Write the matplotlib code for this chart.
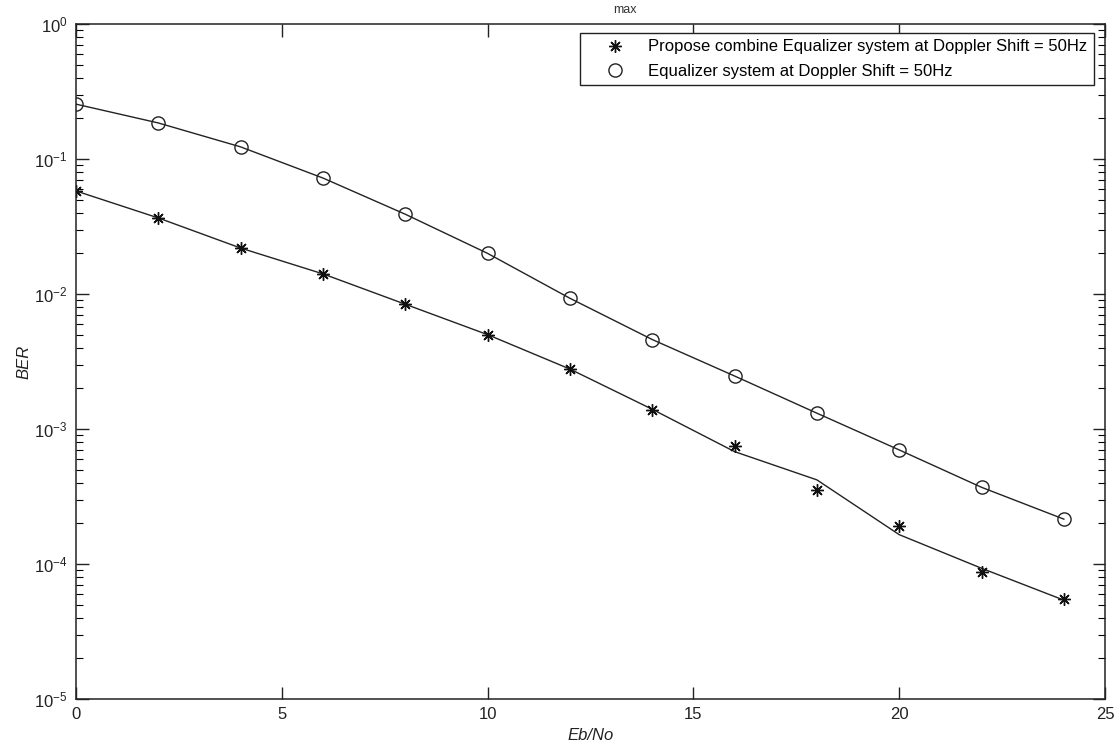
import numpy as np
import matplotlib.pyplot as plt
from matplotlib.ticker import LogLocator, NullFormatter

plt.rcParams['font.family'] = ['Liberation Sans', 'DejaVu Sans']
plt.rcParams['mathtext.fontset'] = 'custom'
plt.rcParams['mathtext.rm'] = 'Liberation Sans'
plt.rcParams['mathtext.it'] = 'Liberation Sans:italic'

# Eb/No points (dB)
ebno = [0, 2, 4, 6, 8, 10, 12, 14, 16, 18, 20, 22, 24]

# measured BER (markers)
ber_prop = [0.058, 0.0366, 0.0219, 0.0141, 0.0084, 0.0050, 0.00278,
            0.00138, 7.5e-4, 3.53e-4, 1.91e-4, 8.7e-5, 5.5e-5]
ber_eq = [0.255, 0.185, 0.123, 0.0723, 0.039, 0.020, 0.0093,
          0.0046, 0.00247, 0.00131, 7.0e-4, 3.7e-4, 2.15e-4]

# fitted curves drawn through the points
fit_prop = [0.058, 0.0366, 0.0219, 0.0141, 0.0084, 0.0050, 0.00278,
            0.00140, 6.8e-4, 4.2e-4, 1.65e-4, 9.3e-5, 5.4e-5]
fit_eq = ber_eq

labels = ['Propose combine Equalizer system at Doppler Shift = 50Hz',
          'Equalizer system at Doppler Shift = 50Hz']

fig = plt.figure(figsize=(11.19, 7.46), dpi=100)
ax = fig.add_axes([0.0679, 0.063, 0.9196, 0.9048])

ax.plot(ebno, fit_prop, color='#222222', lw=1.0)
ax.plot(ebno, fit_eq, color='#222222', lw=1.0)
ax.plot(ebno, ber_prop, ls='none', marker=(8, 2, 0), ms=9, mew=1.0,
        color='#111111', label=labels[0])
ax.plot(ebno, ber_eq, ls='none', marker='o', ms=9.5, mew=1.0,
        mfc='none', mec='#222222', label=labels[1])

ax.set_yscale('log')
ax.set_xlim(0, 25)
ax.set_ylim(1e-5, 1)
ax.set_xticks([0, 5, 10, 15, 20, 25])
ax.yaxis.set_major_locator(LogLocator(base=10, numticks=10))
ax.yaxis.set_minor_locator(LogLocator(base=10, subs=np.arange(2, 10), numticks=10))
ax.yaxis.set_minor_formatter(NullFormatter())

ax.tick_params(which='major', direction='in', length=9, width=1,
               top=True, right=True, labelsize=12, colors='#222222', pad=6)
ax.tick_params(which='minor', direction='in', length=5, width=0.8,
               top=True, right=True)
for s in ax.spines.values():
    s.set_linewidth(1.1)
    s.set_color('#222222')

ax.set_xlabel('Eb/No', fontsize=12, style='italic', color='#222222', labelpad=4)
ax.set_ylabel('BER', fontsize=12, style='italic', color='#222222', labelpad=2)

leg = ax.legend(loc='upper right', bbox_to_anchor=(0.989, 0.987),
                borderaxespad=0, fontsize=12, fancybox=False,
                edgecolor='#222222', framealpha=1, handlelength=3.4,
                handletextpad=0.3, borderpad=0.4, labelspacing=0.55)
leg.get_frame().set_linewidth(1.0)

fig.text(0.548, 0.995, 'max', fontsize=9, ha='left', va='top', color='#333333')

fig.savefig('out.png', dpi=100)
